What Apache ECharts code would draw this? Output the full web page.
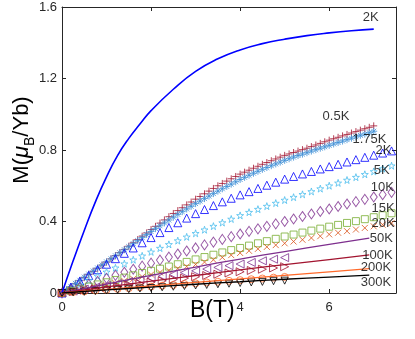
<!DOCTYPE html>
<html lang="en">
<head>
  <meta charset="UTF-8">
  <title>M vs B</title>
  <script src="https://cdn.jsdelivr.net/npm/echarts@6/dist/echarts.min.js"></script>
  <style>html,body{margin:0;padding:0;background:#fff;}</style>
</head>
<body>
  <div id="main" style="width: 415px;height:339px;"></div>

  <script type="text/javascript">
    // field values (T)
    const bDense = [0,0.1,0.2,0.3,0.4,0.5,0.6,0.7,0.8,0.9,1.0,1.1,1.2,1.3,1.4,1.5,1.6,1.7,1.8,1.9,
      2.0,2.1,2.2,2.3,2.4,2.5,2.6,2.7,2.8,2.9,3.0,3.1,3.2,3.3,3.4,3.5,3.6,3.7,3.8,3.9,
      4.0,4.1,4.2,4.3,4.4,4.5,4.6,4.7,4.8,4.9,5.0,5.1,5.2,5.3,5.4,5.5,5.6,5.7,5.8,5.9,
      6.0,6.1,6.2,6.3,6.4,6.5,6.6,6.7,6.8,6.9,7.0];
    const bMid = [0,0.2,0.4,0.6,0.8,1.0,1.2,1.4,1.6,1.8,2.0,2.2,2.4,2.6,2.8,3.0,3.2,3.4,3.6,3.8,
      4.0,4.2,4.4,4.6,4.8,5.0,5.2,5.4,5.6,5.8,6.0,6.2,6.4,6.6,6.8,7.0,7.2,7.4];
    const bHigh = [0,0.25,0.5,0.75,1.0,1.25,1.5,1.75,2.0,2.25,2.5,2.75,3.0,3.25,3.5,3.75,4.0,4.25,4.5,4.75,5.0];
    const bFit = [0,1,2,3,4,5,6,6.9];
    const b2Kcurve = [0,0.25,0.5,0.75,1,1.25,1.5,1.75,2,2.5,3,3.5,4,4.5,5,5.5,6,6.5,7];

    // magnetisation (muB/Yb)
    const m2Kcurve = [0,0.18,0.35,0.51,0.65,0.77,0.865,0.945,1.02,1.14,1.24,1.31,1.36,1.395,1.42,1.44,1.455,1.467,1.476];
    const m05K = [0,0.017,0.034,0.052,0.069,0.086,0.104,0.121,0.138,0.156,
      0.173,0.191,0.209,0.226,0.244,0.262,0.281,0.299,0.318,0.336,
      0.355,0.373,0.391,0.409,0.427,0.445,0.461,0.477,0.493,0.509,
      0.525,0.540,0.555,0.570,0.585,0.600,0.613,0.626,0.639,0.652,
      0.665,0.676,0.687,0.698,0.709,0.720,0.730,0.740,0.750,0.760,
      0.770,0.778,0.786,0.794,0.802,0.810,0.819,0.828,0.837,0.846,
      0.855,0.863,0.871,0.879,0.887,0.895,0.903,0.911,0.919,0.927,0.935];
    const m175K = [0,0.018,0.036,0.054,0.071,0.089,0.106,0.123,0.140,0.157,
      0.174,0.191,0.208,0.225,0.242,0.259,0.276,0.293,0.310,0.327,
      0.344,0.360,0.376,0.392,0.408,0.424,0.440,0.455,0.470,0.485,
      0.500,0.514,0.528,0.542,0.556,0.570,0.583,0.596,0.609,0.622,
      0.635,0.647,0.659,0.670,0.681,0.692,0.702,0.712,0.722,0.732,
      0.742,0.751,0.760,0.769,0.777,0.785,0.794,0.802,0.810,0.818,
      0.826,0.834,0.842,0.850,0.858,0.866,0.874,0.882,0.889,0.897,0.905];
    const m2K = [0,0.033,0.066,0.098,0.130,0.161,0.192,0.222,0.252,0.281,
      0.310,0.338,0.366,0.393,0.419,0.444,0.467,0.489,0.510,0.530,
      0.549,0.567,0.585,0.603,0.620,0.637,0.652,0.666,0.680,0.694,
      0.707,0.720,0.733,0.746,0.759,0.771,0.783,0.795];
    const m5K = [0,0.024,0.048,0.071,0.095,0.118,0.141,0.164,0.186,0.208,
      0.230,0.251,0.272,0.293,0.314,0.334,0.354,0.374,0.394,0.414,
      0.434,0.452,0.469,0.486,0.503,0.520,0.536,0.552,0.568,0.584,
      0.600,0.616,0.632,0.648,0.664,0.680,0.696,0.712];
    const m10K = [0,0.016,0.032,0.048,0.065,0.082,0.099,0.116,0.133,0.150,
      0.167,0.184,0.201,0.218,0.235,0.252,0.269,0.285,0.300,0.315,
      0.330,0.345,0.359,0.373,0.387,0.400,0.414,0.428,0.442,0.456,
      0.470,0.484,0.498,0.511,0.524,0.537,0.550,0.563];
    const m15K = [0,0.012,0.024,0.036,0.048,0.060,0.073,0.086,0.099,0.112,
      0.124,0.136,0.148,0.161,0.174,0.188,0.201,0.214,0.227,0.240,
      0.252,0.265,0.278,0.290,0.303,0.316,0.327,0.338,0.349,0.360,
      0.371,0.381,0.392,0.402,0.413,0.424,0.435,0.446];
    const m20K = [0,0.008,0.016,0.024,0.034,0.044,0.055,0.067,0.079,0.091,
      0.103,0.115,0.126,0.137,0.148,0.160,0.173,0.186,0.199,0.212,
      0.224,0.236,0.247,0.258,0.268,0.278,0.288,0.298,0.308,0.318,
      0.328,0.337,0.346,0.355,0.364,0.373,0.382,0.391];
    const m50K = [0,0.011,0.022,0.032,0.043,0.053,0.064,0.074,0.084,0.094,0.104,
      0.114,0.124,0.134,0.143,0.153,0.162,0.171,0.180,0.189,0.198];
    const m100K = [0,0.008,0.016,0.023,0.031,0.038,0.046,0.053,0.061,0.068,0.076,
      0.083,0.091,0.098,0.105,0.112,0.119,0.126,0.133,0.140,0.147];
    const m200K = [0,0.005,0.009,0.014,0.018,0.023,0.027,0.032,0.036,0.041,0.045,
      0.050,0.054,0.059,0.063,0.068,0.072,0.077,0.081,0.086,0.090];
    const m300K = [0,0.004,0.007,0.011,0.014,0.018,0.021,0.025,0.028,0.032,0.035,
      0.039,0.042,0.045,0.049,0.052,0.056,0.059,0.062,0.066,0.069];
    // fitted lines
    const fit50K = [0,0.05,0.098,0.145,0.19,0.232,0.272,0.307];
    const fit100K = [0,0.034,0.066,0.098,0.129,0.159,0.187,0.213];
    const fit200K = [0,0.02,0.04,0.06,0.079,0.099,0.118,0.136];
    const fit300K = [0,0.017,0.033,0.049,0.063,0.077,0.089,0.10];

    // curve labels and where they sit (data coords)
    const labelText = ['2K','0.5K','1.75K','2K','5K','10K','15K','20K','50K','100K','200K','300K'];
    const labelB = [6.74,5.84,6.51,7.03,6.99,6.92,6.94,6.94,6.90,6.73,6.70,6.70];
    const labelM = [1.54,0.987,0.861,0.797,0.683,0.59,0.474,0.39,0.306,0.209,0.144,0.058];

    const font = 'Liberation Sans, Arial, sans-serif';
    const axisCol = '#262626';

    const PLUS = 'path://M5,0L5,10M0,5L10,5';
    const CROSS = 'path://M0,0L10,10M10,0L0,10';
    const ASTER = 'path://M5,0L5,10M0,5L10,5M1.5,1.5L8.5,8.5M8.5,1.5L1.5,8.5';
    const PENTA = 'path://M50,0L61.8,35.3L98.5,35.3L68.8,57.1L79.4,90.5L50,69.1L20.6,90.5L31.2,57.1L1.5,35.3L38.2,35.3Z';

    function pts(b, m) { return b.map((x, i) => [x, m[i]]); }

    function markers(b, m, symbol, color, size, rotate) {
      return {
        type: 'scatter', data: pts(b, m), symbol: symbol, symbolSize: size,
        symbolRotate: rotate || 0, silent: true,
        itemStyle: { color: 'rgba(0,0,0,0)', borderColor: color, borderWidth: 1 }
      };
    }

    function line(b, m, color, width) {
      return {
        type: 'line', data: pts(b, m), symbol: 'none', smooth: true, silent: true,
        lineStyle: { color: color, width: width || 1.3 }
      };
    }

    const axisCommon = {
      type: 'value',
      splitLine: { show: false },
      axisLine: { show: true, onZero: false, lineStyle: { color: axisCol, width: 1 } },
      axisTick: { show: true, inside: true, length: 4, lineStyle: { color: axisCol } }
    };

    let myChart = echarts.init(document.getElementById('main'));

    let options = {
      animation: false,
      grid: { left: 62, right: 19, top: 7, bottom: 46 },
      xAxis: [
        Object.assign({}, axisCommon, {
          position: 'bottom', min: 0, max: 7.5, interval: 2,
          axisLabel: { fontSize: 13, color: axisCol, fontFamily: font, margin: 8, showMaxLabel: false }
        }),
        Object.assign({}, axisCommon, {
          position: 'top', min: 0, max: 7.5, interval: 2, axisLabel: { show: false }
        })
      ],
      yAxis: [
        Object.assign({}, axisCommon, {
          position: 'left', min: 0, max: 1.6, interval: 0.4,
          axisLabel: { fontSize: 13, color: axisCol, fontFamily: font, margin: 5 }
        }),
        Object.assign({}, axisCommon, {
          position: 'right', min: 0, max: 1.6, interval: 0.4, axisLabel: { show: false }
        })
      ],
      graphic: [
        {
          type: 'text', left: 190, top: 299,
          style: { text: 'B(T)', fontSize: 23, fontFamily: font, fill: '#000' }
        },
        {
          type: 'text', x: 23, y: 140, rotation: Math.PI / 2,
          style: {
            text: '{n|M(}{mu|μ}{s|B}{n|/Yb)}', align: 'center', verticalAlign: 'middle',
            rich: {
              n: { fontSize: 22, fontFamily: font, fill: '#000', verticalAlign: 'top', lineHeight: 24 },
              mu: { fontSize: 22, fontFamily: font, fontStyle: 'italic', fill: '#000', verticalAlign: 'top', lineHeight: 24 },
              s: { fontSize: 14, fontFamily: font, fill: '#000', verticalAlign: 'top', lineHeight: 14, padding: [12, 0, 0, 0] }
            }
          }
        }
      ],
      series: [
        line(b2Kcurve, m2Kcurve, '#0000ff', 1.6),
        markers(bDense, m05K, PLUS, '#A2142F', 7),
        markers(bDense, m175K, ASTER, '#3D8FD6', 7),
        markers(bMid, m2K, 'triangle', '#0000ff', 8),
        markers(bMid, m5K, PENTA, '#4DBEEE', 7),
        markers(bMid, m10K, 'diamond', '#7E2F8E', [7, 10]),
        markers(bMid, m15K, 'rect', '#77AC30', 7),
        markers(bMid, m20K, CROSS, '#D95319', 6),
        markers(bHigh, m50K, 'triangle', '#7E2F8E', 8, 90),
        line(bFit, fit50K, '#7E2F8E'),
        markers(bHigh, m100K, 'triangle', '#A2142F', 8, -90),
        line(bFit, fit100K, '#A2142F'),
        markers(bHigh, m200K, 'circle', '#FF6A2B', 7),
        line(bFit, fit200K, '#FF6A2B'),
        markers(bHigh, m300K, 'triangle', '#000000', 7, 180),
        line(bFit, fit300K, '#000000'),
        {
          type: 'scatter', silent: true, symbolSize: 1, z: 10,
          itemStyle: { color: 'rgba(0,0,0,0)' },
          data: labelB.map((x, i) => [x, labelM[i], labelText[i]]),
          label: {
            show: true, position: 'right', distance: 0,
            fontSize: 13, fontFamily: font, color: '#000',
            formatter: p => p.value[2]
          }
        }
      ]
    };

    myChart.setOption(options);
  </script>
</body>
</html>
